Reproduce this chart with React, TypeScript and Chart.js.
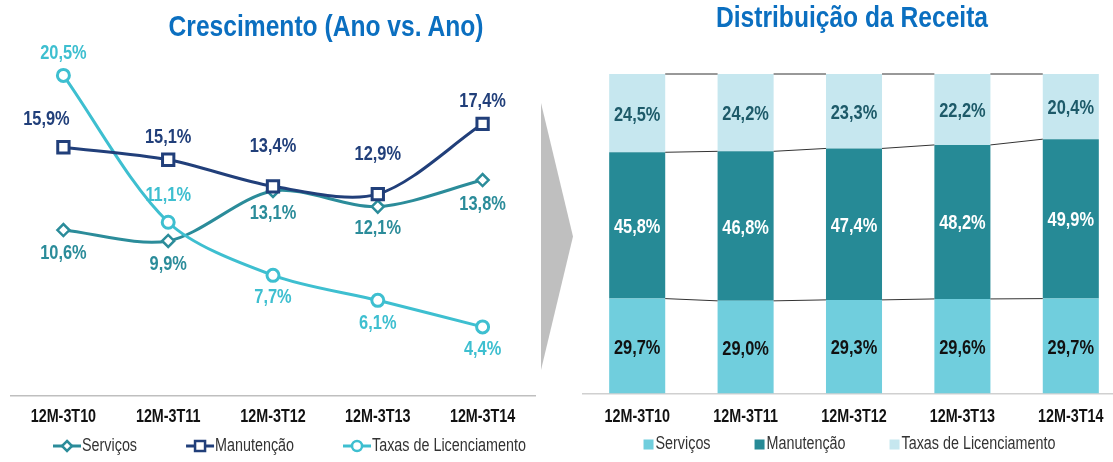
import React, { useEffect, useRef } from 'react';
import { Chart, registerables } from 'chart.js';
Chart.register(...registerables);

// ---------- data ----------
const categories = ['12M-3T10', '12M-3T11', '12M-3T12', '12M-3T13', '12M-3T14'];
const seriesNames = ['Serviços', 'Manutenção', 'Taxas de Licenciamento'];

// Crescimento (Ano vs. Ano), %
const growthServicos = [10.6, 9.9, 13.1, 12.1, 13.8];
const growthManutencao = [15.9, 15.1, 13.4, 12.9, 17.4];
const growthTaxas = [20.5, 11.1, 7.7, 6.1, 4.4];

// Distribuição da Receita, %
const shareServicos = [29.7, 29.0, 29.3, 29.6, 29.7];
const shareManutencao = [45.8, 46.8, 47.4, 48.2, 49.9];
const shareTaxas = [24.5, 24.2, 23.3, 22.2, 20.4];

// ---------- styles ----------
const FONT = '"Liberation Sans", Arial, sans-serif';
const NARROW_SCALE = 0.82; // emulate a condensed face
const TITLE_COLOR = '#0B6FC0';
const lineColors = ['#2B8C9A', '#213F7A', '#3EBFD0'];
const pointStyles = ['rectRot', 'rect', 'circle'];
const pointRadii = [6, 8, 6];
const barColors = ['#70CEDD', '#268A96', '#C6E7EF'];
const barLabelColors = ['#111111', '#FFFFFF', '#1D5A69'];
// label placement for the line chart [dx, dy] per dataset/point
const lineLabelOffsets = [
  [[0, 23], [0, 24], [0, 22], [0, 22], [0, 24]],
  [[-17, -28], [0, -22], [0, -40], [0, -40], [0, -22]],
  [[0, -22], [0, -27], [0, 22], [0, 23], [0, 23]],
];

const fmt = (v: number) => v.toFixed(1).replace('.', ',') + '%';

function narrowText(ctx: CanvasRenderingContext2D, text: string, x: number, y: number) {
  ctx.save();
  ctx.translate(x, y);
  ctx.scale(NARROW_SCALE, 1);
  ctx.fillText(text, 0, 0);
  ctx.restore();
}

function drawMarker(ctx: CanvasRenderingContext2D, style: string, cx: number, cy: number, color: string) {
  ctx.fillStyle = '#fff';
  ctx.strokeStyle = color;
  ctx.lineWidth = 2.5;
  ctx.beginPath();
  if (style === 'rectRot') {
    ctx.moveTo(cx, cy - 5); ctx.lineTo(cx + 5, cy); ctx.lineTo(cx, cy + 5); ctx.lineTo(cx - 5, cy); ctx.closePath();
  } else if (style === 'rect') {
    ctx.rect(cx - 5, cy - 5, 10, 10);
  } else {
    ctx.arc(cx, cy, 5, 0, Math.PI * 2);
  }
  ctx.fill();
  ctx.stroke();
}

// x-axis category labels, drawn at the library's tick positions
const tickLabelsPlugin = {
  id: 'tickLabels',
  afterDraw(chart: any, _args: any, opts: any) {
    const ctx = chart.ctx;
    const xs = chart.scales.x;
    ctx.save();
    ctx.font = `bold 17.5px ${FONT}`;
    ctx.fillStyle = '#111';
    ctx.textAlign = 'center';
    ctx.textBaseline = 'middle';
    xs.ticks.forEach((_t: any, i: number) => {
      narrowText(ctx, String(xs.getLabelForValue(i)), xs.getPixelForTick(i), chart.chartArea.bottom + opts.offset);
    });
    ctx.restore();
  },
};

// legend drawn in one row, with condensed text
const rowLegendPlugin = {
  id: 'rowLegend',
  afterDraw(chart: any, _args: any, opts: any) {
    const ctx = chart.ctx;
    ctx.save();
    ctx.font = `17.5px ${FONT}`;
    ctx.textBaseline = 'middle';
    ctx.textAlign = 'left';
    const items = chart.data.datasets.map((ds: any, i: number) => ({
      text: ds.label,
      tw: ctx.measureText(ds.label).width * NARROW_SCALE,
      i,
    }));
    const total = items.reduce((s: number, it: any) => s + opts.symbolW + opts.textGap + it.tw, 0) + opts.itemGap * (items.length - 1);
    let x = opts.centerX - total / 2;
    const y = opts.y;
    items.forEach((it: any) => {
      opts.drawSymbol(ctx, it.i, x, y);
      x += opts.symbolW + opts.textGap;
      ctx.fillStyle = '#333';
      narrowText(ctx, it.text, x, y);
      x += it.tw + opts.itemGap;
    });
    ctx.restore();
  },
};

const lineLabelsPlugin = {
  id: 'lineLabels',
  afterDatasetsDraw(chart: any) {
    const ctx = chart.ctx;
    ctx.save();
    ctx.font = `bold 20px ${FONT}`;
    ctx.textAlign = 'center';
    ctx.textBaseline = 'middle';
    chart.data.datasets.forEach((ds: any, di: number) => {
      const meta = chart.getDatasetMeta(di);
      meta.data.forEach((pt: any, i: number) => {
        const [dx, dy] = lineLabelOffsets[di][i];
        ctx.fillStyle = lineColors[di];
        narrowText(ctx, fmt(ds.data[i]), pt.x + dx, pt.y + dy);
      });
    });
    ctx.restore();
  },
};

const barExtrasPlugin = {
  id: 'barExtras',
  afterDatasetsDraw(chart: any) {
    const ctx = chart.ctx;
    ctx.save();
    // series lines between bars
    ctx.strokeStyle = '#333';
    ctx.lineWidth = 1;
    chart.data.datasets.forEach((_ds: any, di: number) => {
      const els = chart.getDatasetMeta(di).data;
      for (let i = 0; i < els.length - 1; i++) {
        const a = els[i];
        const b = els[i + 1];
        ctx.beginPath();
        ctx.moveTo(a.x + a.width / 2, a.y);
        ctx.lineTo(b.x - b.width / 2, b.y);
        ctx.stroke();
      }
    });
    // value labels
    ctx.font = `bold 20px ${FONT}`;
    ctx.textAlign = 'center';
    ctx.textBaseline = 'middle';
    chart.data.datasets.forEach((ds: any, di: number) => {
      const els = chart.getDatasetMeta(di).data;
      els.forEach((el: any, i: number) => {
        ctx.fillStyle = barLabelColors[di];
        narrowText(ctx, fmt(ds.data[i]), el.x, (el.y + el.base) / 2 + 2);
      });
    });
    ctx.restore();
  },
};

function GrowthChart() {
  const ref = useRef<HTMLCanvasElement>(null);
  useEffect(() => {
    const series = [growthServicos, growthManutencao, growthTaxas];
    const chart = new Chart(ref.current!, {
      type: 'line',
      data: {
        labels: categories,
        datasets: series.map((d, i) => ({
          label: seriesNames[i],
          data: d,
          borderColor: lineColors[i],
          backgroundColor: '#fff',
          borderWidth: 3,
          tension: 0.3,
          pointStyle: pointStyles[i] as any,
          pointRadius: pointRadii[i],
          pointBorderWidth: i === 0 ? 2.5 : 3,
          pointBackgroundColor: '#fff',
          pointBorderColor: lineColors[i],
          order: i === 1 ? 0 : i === 2 ? 1 : 2,
        })),
      },
      options: {
        animation: false,
        responsive: false,
        maintainAspectRatio: false,
        layout: { padding: { left: 7, right: 45, top: 52, bottom: 66.4 } },
        scales: {
          x: {
            offset: true,
            grid: { display: false, drawTicks: false },
            border: { display: true, color: '#BFBFBF', width: 1.5 },
            ticks: { display: false },
            afterFit: (s: any) => { s.height = 0; },
          },
          y: { display: false, min: 0, max: 22 },
        },
        plugins: {
          tooltip: { enabled: false },
          legend: { display: false },
          tickLabels: { offset: 21.4 },
          rowLegend: {
            centerX: 289.5,
            y: 446,
            symbolW: 28,
            textGap: 1,
            itemGap: 49,
            drawSymbol: (ctx: CanvasRenderingContext2D, i: number, x: number, y: number) => {
              ctx.strokeStyle = lineColors[i];
              ctx.lineWidth = 3;
              ctx.beginPath();
              ctx.moveTo(x, y);
              ctx.lineTo(x + 28, y);
              ctx.stroke();
              drawMarker(ctx, pointStyles[i], x + 14, y, lineColors[i]);
            },
          },
        },
      },
      plugins: [lineLabelsPlugin, tickLabelsPlugin, rowLegendPlugin],
    } as any);
    return () => chart.destroy();
  }, []);
  return <canvas ref={ref} width={580} height={462} style={{ position: 'absolute', left: 0, top: 0 }} />;
}

function ShareChart() {
  const ref = useRef<HTMLCanvasElement>(null);
  useEffect(() => {
    const series = [shareServicos, shareManutencao, shareTaxas];
    const chart = new Chart(ref.current!, {
      type: 'bar',
      data: {
        labels: categories,
        datasets: series.map((d, i) => ({
          label: seriesNames[i],
          data: d,
          backgroundColor: barColors[i],
          borderWidth: 0,
          barPercentage: 0.517,
          categoryPercentage: 1,
        })),
      },
      options: {
        animation: false,
        responsive: false,
        maintainAspectRatio: false,
        layout: { padding: { left: 23, right: 15, top: 74, bottom: 68.5 } },
        scales: {
          x: {
            stacked: true,
            offset: true,
            grid: { display: false, drawTicks: false },
            border: { display: true, color: '#D0D0D0', width: 1.5 },
            ticks: { display: false },
            afterFit: (s: any) => { s.height = 0; },
          },
          y: { display: false, stacked: true, min: 0, max: 100 },
        },
        plugins: {
          tooltip: { enabled: false },
          legend: { display: false },
          tickLabels: { offset: 23.5 },
          rowLegend: {
            centerX: 289.5,
            y: 444.5,
            symbolW: 10,
            textGap: 2,
            itemGap: 44,
            drawSymbol: (ctx: CanvasRenderingContext2D, i: number, x: number, y: number) => {
              ctx.fillStyle = barColors[i];
              ctx.fillRect(x, y - 5, 10, 10);
            },
          },
        },
      },
      plugins: [barExtrasPlugin, tickLabelsPlugin, rowLegendPlugin],
    } as any);
    return () => chart.destroy();
  }, []);
  return <canvas ref={ref} width={580} height={462} style={{ position: 'absolute', left: 560, top: 0 }} />;
}

const titleStyle: React.CSSProperties = {
  position: 'absolute',
  transform: `translateX(-50%) scaleX(${NARROW_SCALE})`,
  whiteSpace: 'nowrap',
  fontFamily: FONT,
  fontWeight: 'bold',
  fontSize: 30,
  lineHeight: '30px',
  color: TITLE_COLOR,
};

export default function App() {
  return (
    <div style={{ position: 'absolute', left: 0, top: 0, width: 1113, height: 462, overflow: 'hidden', background: '#fff' }}>
      <GrowthChart />
      <ShareChart />
      <div
        style={{
          position: 'absolute',
          left: 541,
          top: 103,
          width: 32,
          height: 267,
          background: '#BFBFBF',
          clipPath: 'polygon(0 0, 100% 50%, 0 100%)',
        }}
      />
      <div style={{ ...titleStyle, left: 326, top: 11 }}>Crescimento (Ano vs. Ano)</div>
      <div style={{ ...titleStyle, left: 852, top: 2 }}>Distribuição da Receita</div>
    </div>
  );
}
